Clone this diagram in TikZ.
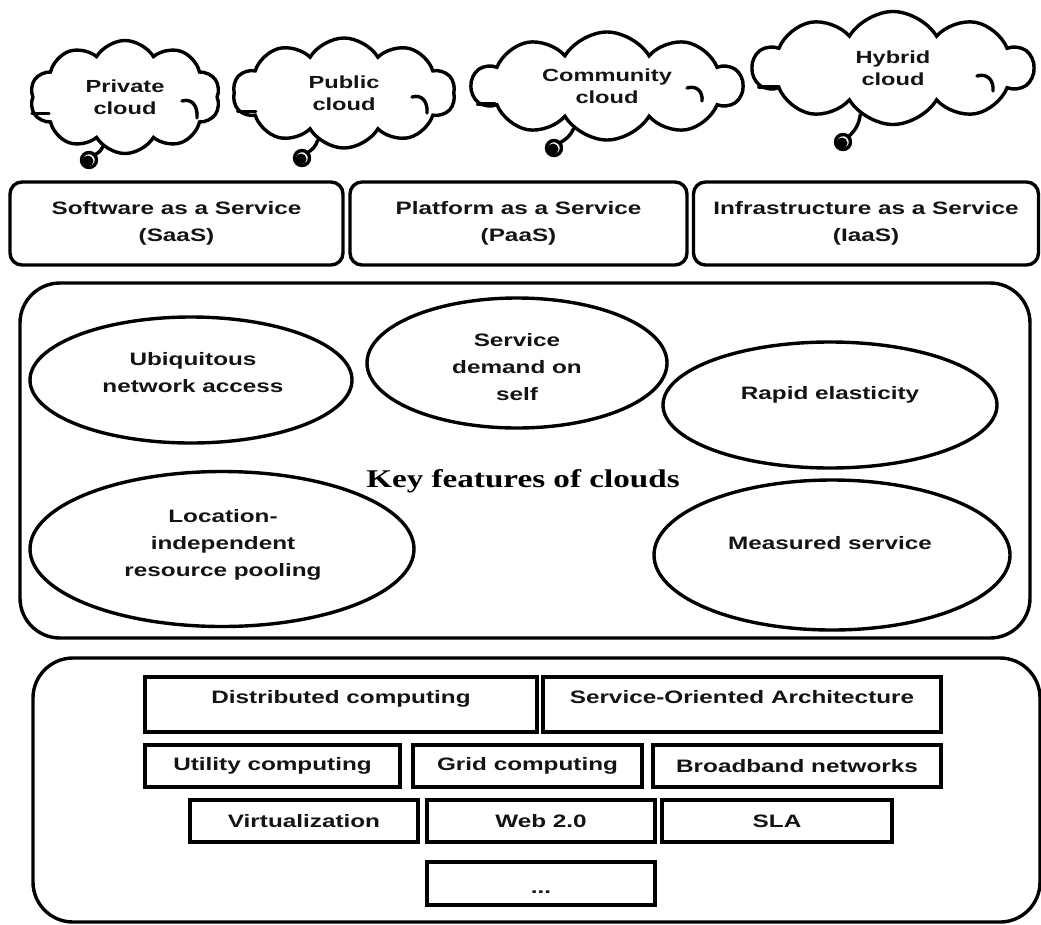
\documentclass[tikz,border=0pt]{standalone}
\usepackage{fontspec}
\usetikzlibrary{shapes.symbols,shapes.geometric}
\newfontfamily\arialx{Liberation Sans}[FakeStretch=1.35]
\newfontfamily\timesx{Liberation Serif}[FakeStretch=1.3]

\tikzset{
  every node/.style={font=\arialx\bfseries\fontsize{18}{27}\selectfont, text=black!92},
  ol/.style={line width=3.4pt, draw=black},
  cloudsh/.style={cloud, cloud puffs=10, cloud puff arc=118, cloud ignores aspect,
    ol, inner sep=0pt, align=center,
    font=\arialx\bfseries\fontsize{17.5}{22}\selectfont},
  svc/.style={ol, rectangle, rounded corners=12pt, minimum height=83pt, align=center, inner sep=0pt},
  panel/.style={ol, rectangle, rounded corners=40pt, inner sep=0pt},
  feat/.style={ellipse, ol, inner sep=0pt},
  ftxt/.style={align=center, inner sep=0pt},
  tech/.style={ol, rectangle, inner sep=0pt},
  curl/.style={line width=3.4pt, line cap=round},
  title/.style={font=\timesx\bfseries\fontsize{25.5}{30}\selectfont, text=black, inner sep=0pt},
}

\begin{document}
\begin{tikzpicture}[x=1pt, y=-1pt]
\useasboundingbox[fill=white] (0,0) rectangle (1041,924);

% deployment models
\node[cloudsh, minimum width=190pt, minimum height=113pt] (priv) at (125,97)  {Private\\cloud};
\node[cloudsh, minimum width=222pt, minimum height=110pt] (publ) at (344,93)  {Public\\cloud};
\node[cloudsh, minimum width=270pt, minimum height=108pt] (comm) at (607,86)  {Community\\cloud};
\node[cloudsh, minimum width=280pt, minimum height=113pt] (hybr) at (893,68)  {Hybrid\\cloud};

% inner strokes of the clouds
\draw[curl] (priv.190) -- ++(17,0);
\draw[curl] (182,101) .. controls (192,98) and (198,106) .. (197,118);
\draw[curl] (publ.190) -- ++(18,0);
\draw[curl] (412,97) .. controls (422,94) and (428,102) .. (427,113);
\draw[curl] (comm.188) -- ++(17,0);
\draw[curl] (687,88) .. controls (697,85) and (703,92) .. (702,101);
\draw[curl] (hybr.188) -- ++(20,0);
\draw[curl] (977,76) .. controls (987,73) and (994,80) .. (993,91);

% thought-bubble tails
\foreach \cl/\ang/\cx/\cy in {priv/246/89/160, publ/241/302/158, comm/232/554/148, hybr/235/843/142}{
  \draw[curl] (\cl.\ang) to[bend left=20] ({\cx+5},{\cy-5});
  \draw[line width=3.4pt] (\cx,\cy) circle (7.5);
  \fill ({\cx-1},{\cy+1}) circle (5.5);
}

% service models
\node[svc, minimum width=333pt] (saas) at (176.5,223.5) {Software as a Service\\(SaaS)};
\node[svc, minimum width=337pt] (paas) at (518.5,223.5) {Platform as a Service\\(PaaS)};
\node[svc, minimum width=345pt] (iaas) at (866,223.5)   {Infrastructure as a Service\\(IaaS)};

% key features
\node[panel, minimum width=1010pt, minimum height=355pt] (keys) at (525,460.5) {};
\node[title] (keyt) at (523,481) {Key features of clouds};

\node[feat, minimum width=322pt, minimum height=126pt] (ubi) at (191,380) {};
\node[ftxt] (ubit) at (193,373) {Ubiquitous\\network access};
\node[feat, minimum width=300pt, minimum height=130pt] (self) at (517,363) {};
\node[ftxt] (selft) at (517,367) {Service\\demand on\\self};
\node[feat, minimum width=334pt, minimum height=126pt] (elas) at (830,405) {};
\node[ftxt] (elast) at (830,395) {Rapid elasticity};
\node[feat, minimum width=384pt, minimum height=155pt] (pool) at (222,549) {};
\node[ftxt] (poolt) at (223,545) {Location-\\independent\\resource pooling};
\node[feat, minimum width=356pt, minimum height=150pt] (meas) at (832,555) {};
\node[ftxt] (meast) at (830,543) {Measured service};

% enabling technologies
\node[panel, minimum width=1007pt, minimum height=264pt] (tech) at (536.5,790) {};
\node[tech, minimum width=392pt, minimum height=55pt, text height=13pt, text depth=16pt] (dist) at (341,704.5) {Distributed computing};
\node[tech, minimum width=398pt, minimum height=55pt, text height=13pt, text depth=16pt] (soa)  at (742,704.5) {Service-Oriented Architecture};
\node[tech, minimum width=255pt, minimum height=42pt] (util)  at (272.5,766) {Utility computing};
\node[tech, minimum width=229pt, minimum height=42pt] (grid)  at (527.5,766) {Grid computing};
\node[tech, minimum width=288pt, minimum height=42pt] (broad) at (797,766)   {Broadband networks};
\node[tech, minimum width=228pt, minimum height=42pt] (virt)  at (304,821)   {Virtualization};
\node[tech, minimum width=228pt, minimum height=42pt] (web)   at (541,821)   {Web 2.0};
\node[tech, minimum width=230pt, minimum height=42pt] (sla)   at (777,821)   {SLA};
\node[tech, minimum width=228pt, minimum height=43pt, text height=20pt, text depth=0pt] (more) at (541,883.5) {...};
\end{tikzpicture}
\end{document}
